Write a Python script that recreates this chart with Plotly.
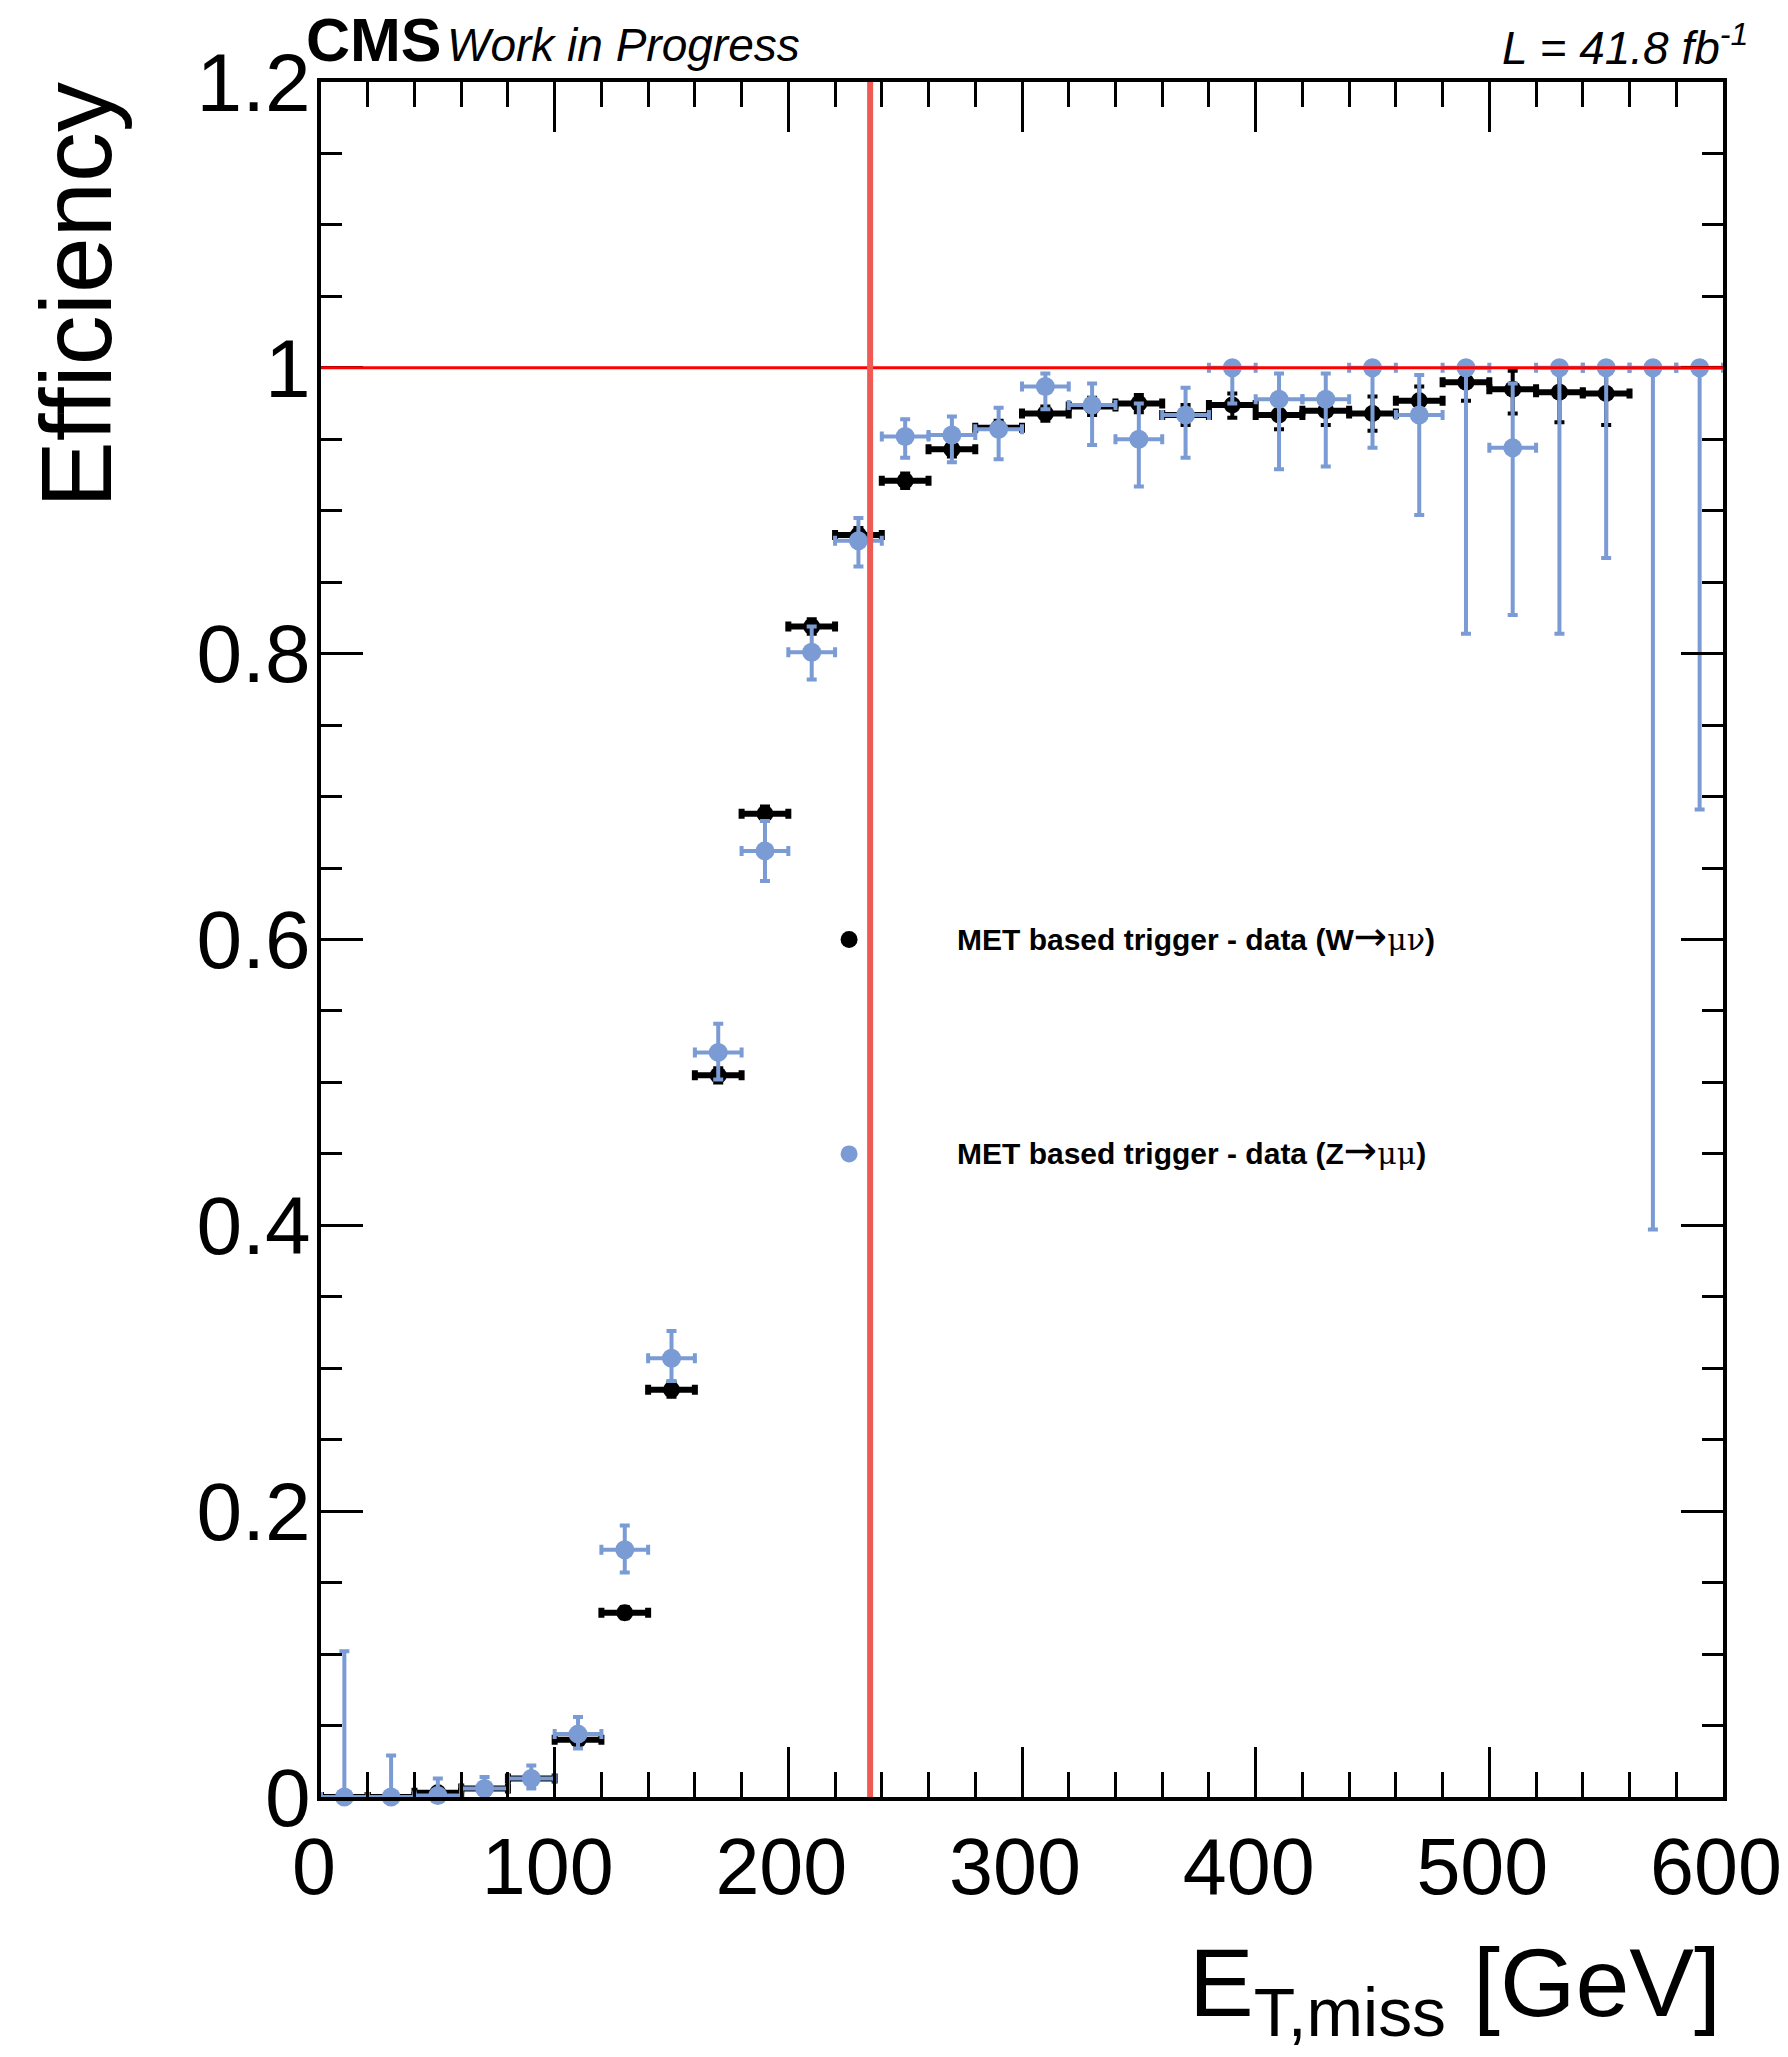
import plotly.graph_objects as go

# MET bins (20 GeV wide), bin centres in GeV
bin_centres = [10, 30, 50, 70, 90, 110, 130, 150, 170, 190, 210, 230, 250, 270, 290,
               310, 330, 350, 370, 390, 410, 430, 450, 470, 490, 510, 530, 550, 570, 590]
bin_half_width = [10] * len(bin_centres)

# W -> mu nu selection (first 28 bins filled)
eff_w = [0.000, 0.000, 0.003, 0.006, 0.013, 0.040, 0.129, 0.285, 0.505, 0.688,
         0.819, 0.883, 0.921, 0.943, 0.958, 0.968, 0.973, 0.975, 0.967, 0.974,
         0.967, 0.970, 0.968, 0.977, 0.990, 0.985, 0.983, 0.982]
eff_w_up = [0.001, 0.001, 0.001, 0.002, 0.002, 0.003, 0.004, 0.005, 0.005, 0.005,
            0.005, 0.005, 0.005, 0.005, 0.005, 0.005, 0.006, 0.006, 0.007, 0.008,
            0.010, 0.010, 0.012, 0.010, 0.009, 0.013, 0.015, 0.016]
eff_w_down = [0.000, 0.000, 0.001, 0.002, 0.002, 0.003, 0.004, 0.005, 0.005, 0.005,
              0.005, 0.005, 0.005, 0.005, 0.005, 0.005, 0.006, 0.006, 0.007, 0.009,
              0.010, 0.010, 0.012, 0.010, 0.013, 0.017, 0.021, 0.022]

# Z -> mu mu selection
eff_z = [0.000, 0.000, 0.001, 0.006, 0.013, 0.044, 0.173, 0.307, 0.521, 0.662,
         0.801, 0.879, 0.952, 0.953, 0.957, 0.987, 0.974, 0.950, 0.967, 1.000,
         0.978, 0.978, 1.000, 0.967, 1.000, 0.944, 1.000, 1.000, 1.000, 1.000]
eff_z_up = [0.102, 0.029, 0.012, 0.008, 0.009, 0.012, 0.017, 0.019, 0.020, 0.021,
            0.018, 0.016, 0.012, 0.013, 0.015, 0.009, 0.015, 0.025, 0.019, 0.000,
            0.018, 0.018, 0.000, 0.028, 0.000, 0.045, 0.000, 0.000, 0.000, 0.000]
eff_z_down = [0.000, 0.000, 0.001, 0.005, 0.007, 0.010, 0.016, 0.016, 0.019, 0.021,
              0.019, 0.018, 0.015, 0.019, 0.021, 0.016, 0.028, 0.033, 0.030, 0.025,
              0.049, 0.047, 0.056, 0.070, 0.186, 0.117, 0.186, 0.133, 0.603, 0.309]

trigger_threshold = 235  # GeV
plateau = 1.0

y_ticks = [0, 0.2, 0.4, 0.6, 0.8, 1.0, 1.2]
y_tick_text = ["0", "0.2", "0.4", "0.6", "0.8", "1", "1.2"]
x_ticks = [0, 100, 200, 300, 400, 500, 600]
x_tick_text = ["0", "100", "200", "300", "400", "500", "600"]

label_w = "MET based trigger - data (W"
label_z = "MET based trigger - data (Z"
arrow = "\u2192"
greek_w = "\u03bc\u03bd"
greek_z = "\u03bc\u03bc"

BLUE = "#7b9bd4"
BLACK = "#000000"
FONT = "Liberation Sans"

# page geometry (pixels)
WIDTH, HEIGHT = 1788, 2057
L, R, T, B = 321, 1723, 82, 1797


def px_x(p):
    return (p - L) / (R - L)


def px_y(p):
    return (B - p) / (B - T)


fig = go.Figure()

n_w = len(eff_w)
fig.add_trace(go.Scatter(
    x=bin_centres[:n_w], y=eff_w, mode="markers",
    marker=dict(color=BLACK, size=17, symbol="circle"),
    error_x=dict(type="data", array=bin_half_width[:n_w], color=BLACK, thickness=6, width=5),
    error_y=dict(type="data", symmetric=False, array=eff_w_up, arrayminus=eff_w_down,
                 color=BLACK, thickness=4, width=5),
    showlegend=False, cliponaxis=False,
))

fig.add_trace(go.Scatter(
    x=bin_centres, y=eff_z, mode="markers",
    marker=dict(color=BLUE, size=19, symbol="circle"),
    error_x=dict(type="data", array=bin_half_width, color=BLUE, thickness=4, width=5),
    error_y=dict(type="data", symmetric=False, array=eff_z_up, arrayminus=eff_z_down,
                 color=BLUE, thickness=4, width=5),
    showlegend=False, cliponaxis=False,
))

# plateau reference and trigger threshold lines
fig.add_shape(type="line", xref="x", yref="y", x0=0, x1=600, y0=plateau, y1=plateau,
              line=dict(color="#ff0000", width=3), layer="above")
fig.add_shape(type="line", xref="x", yref="paper", x0=trigger_threshold, x1=trigger_threshold,
              y0=0, y1=1, line=dict(color="#ee5b55", width=6), layer="above")

# legend keys
legend_key_x = 226
for key_y, col in [(0.6, BLACK), (0.45, BLUE)]:
    fig.add_shape(type="circle", xref="x", yref="y", xsizemode="pixel", ysizemode="pixel",
                  xanchor=legend_key_x, yanchor=key_y, x0=-8.5, x1=8.5, y0=-8.5, y1=8.5,
                  fillcolor=col, line=dict(color=col, width=0), layer="above")

arrow_span = "<span style=\"font-family:'DejaVu Sans';font-weight:normal;font-size:40px\">"
greek_span = "<span style=\"font-family:'DejaVu Serif';font-weight:normal\">"
for key_y, lab, gr in [(0.6, label_w, greek_w), (0.45, label_z, greek_z)]:
    fig.add_annotation(
        xref="x", yref="y", x=271.5, y=key_y, xanchor="left", yanchor="middle", yshift=4,
        text=f"<b>{lab}</b>{arrow_span}{arrow}</span>{greek_span}{gr}</span><b>)</b>",
        showarrow=False,
        font=dict(family=FONT, size=30, color="black"),
    )

# header texts
fig.add_annotation(xref="paper", yref="paper", x=px_x(304), y=px_y(40), xanchor="left",
                   yanchor="middle", text="<b>CMS</b>", showarrow=False,
                   font=dict(family=FONT, size=61, color="black"))
fig.add_annotation(xref="paper", yref="paper", x=px_x(445), y=px_y(45), xanchor="left",
                   yanchor="middle", text="<i>Work in Progress</i>", showarrow=False,
                   font=dict(family=FONT, size=46, color="black"))
fig.add_annotation(xref="paper", yref="paper", x=px_x(1750), y=px_y(45), xanchor="right",
                   yanchor="middle", text="<i>L = 41.8 fb<sup>-1</sup></i>", showarrow=False,
                   font=dict(family=FONT, size=46, color="black"))

# axis titles
fig.add_annotation(xref="paper", yref="paper", x=px_x(76), y=px_y(80), xanchor="center",
                   yanchor="top", textangle=-90, text="Efficiency", showarrow=False,
                   font=dict(family=FONT, size=100, color="black"))
fig.add_annotation(xref="paper", yref="paper", x=1.0, y=px_y(1926), xanchor="right",
                   yanchor="top", text="E<sub>T,miss</sub> [GeV]", showarrow=False,
                   font=dict(family=FONT, size=97, color="black"))

axis_common = dict(showgrid=False, zeroline=False, showline=True, linecolor="black",
                   linewidth=4, mirror="ticks", ticks="inside", tickcolor="black",
                   tickwidth=3, ticklabeloverflow="allow", automargin=False)

fig.update_xaxes(range=[0, 600], tickvals=x_ticks, ticktext=x_tick_text, ticklen=50,
                 tickfont=dict(family=FONT, size=79, color="black"),
                 ticklabelstandoff=-2, ticklabelshift=-7,
                 minor=dict(ticks="inside", dtick=20, ticklen=25, tickwidth=3,
                            tickcolor="black", showgrid=False),
                 **axis_common)
fig.update_yaxes(range=[0, 1.2], tickvals=y_ticks, ticktext=y_tick_text, ticklen=42,
                 tickfont=dict(family=FONT, size=82, color="black"),
                 ticklabelstandoff=-10,
                 minor=dict(ticks="inside", dtick=0.05, ticklen=21, tickwidth=3,
                            tickcolor="black", showgrid=False),
                 **axis_common)

fig.update_layout(
    width=WIDTH, height=HEIGHT,
    margin=dict(l=L, r=WIDTH - R, t=T, b=HEIGHT - B, pad=0, autoexpand=False),
    paper_bgcolor="white", plot_bgcolor="white",
    font=dict(family=FONT, color="black"),
)

fig.write_html("out.html")
